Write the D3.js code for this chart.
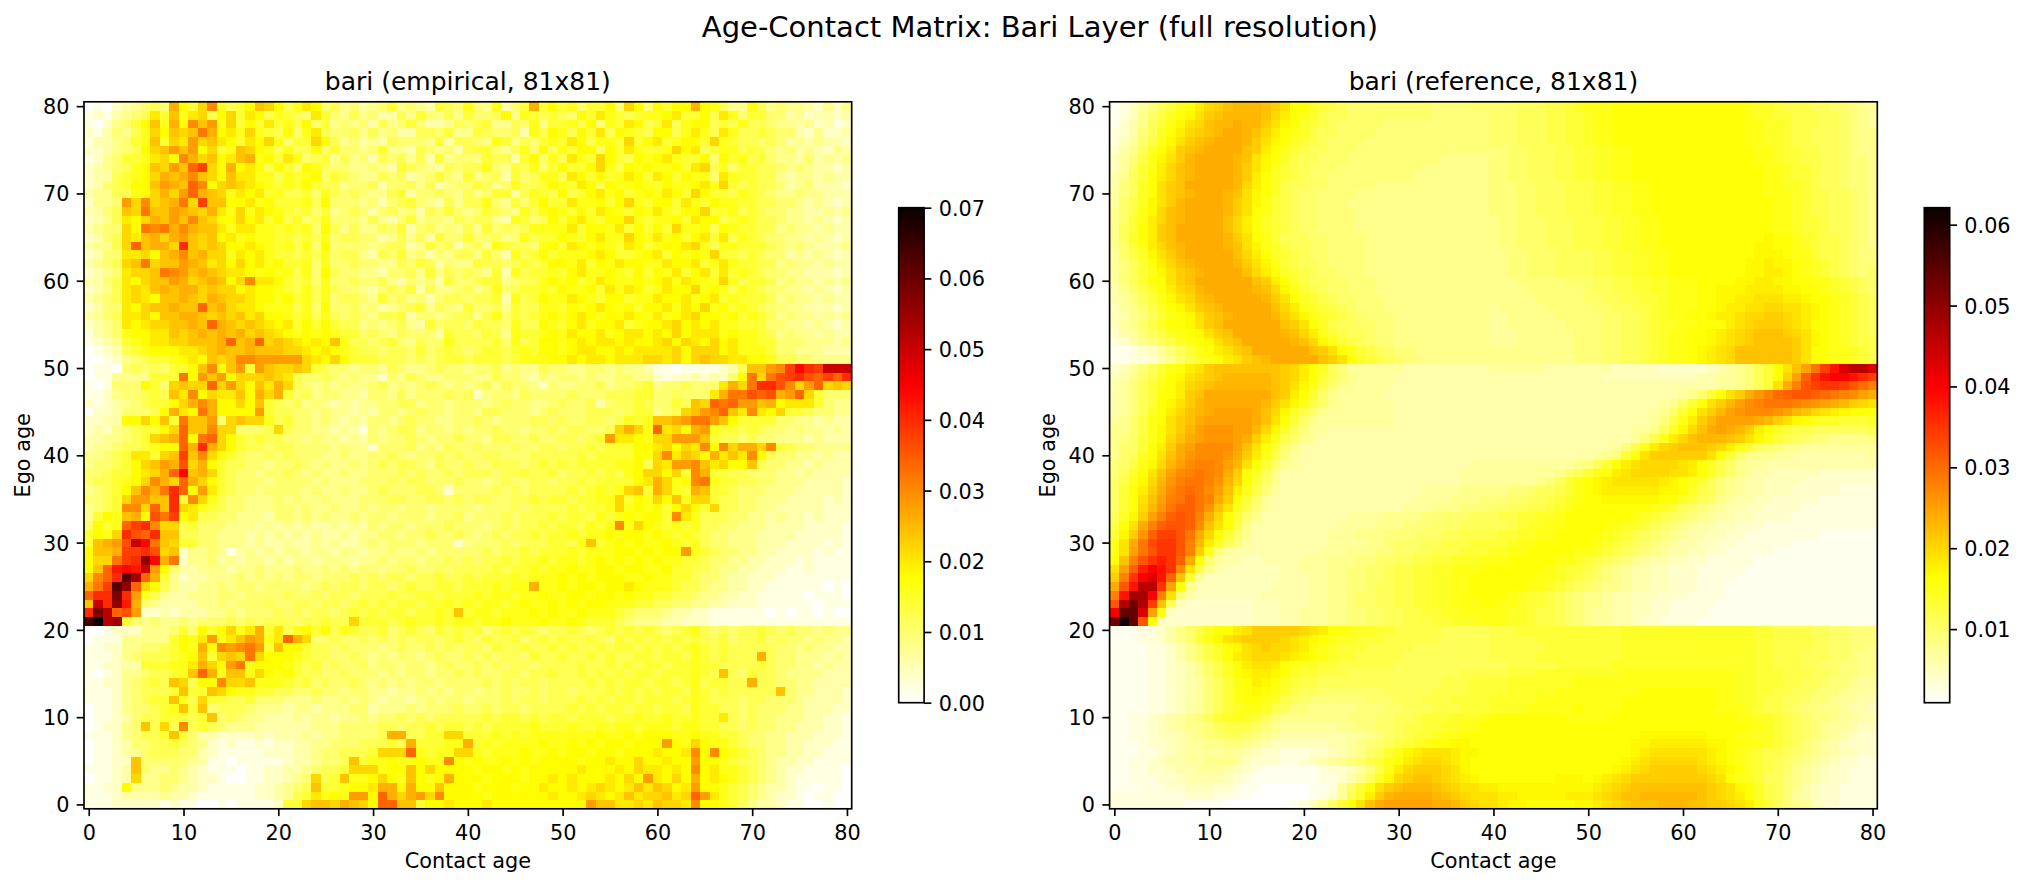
<!DOCTYPE html>
<html>
<head>
<meta charset="utf-8">
<script src="https://cdn.jsdelivr.net/npm/d3@7"></script>
<style>
  html, body { margin: 0; padding: 0; background: #ffffff; }
  svg { display: block; font-family: "DejaVu Sans", sans-serif; }
</style>
</head>
<body>
<svg id="chart" width="2026" height="887"></svg>
<script>
// ---------- data ----------
const ageTicks = [0, 10, 20, 30, 40, 50, 60, 70, 80];
const empiricalTicks = [0, 0.01, 0.02, 0.03, 0.04, 0.05, 0.06, 0.07];
const referenceTicks = [0.01, 0.02, 0.03, 0.04, 0.05, 0.06];
const empiricalRange = [0, 0.07];
const referenceRange = [0.0009, 0.0621];

// one character per cell, level index into this alphabet
const levelAlphabet = "0123456789abcdefghijklmnopqrstuvwxyzABCDEFGHIJKLMNOPQRSTUVWXYZ";
const empiricalStep = 0.002;
const referenceStep = 0.001;

// rows run from ego age 80 (top) down to ego age 0; columns are contact ages 0..80
const empiricalRows = [
  "010234565d 97bf8679cb 968a956453 4574543765 8548357d79 7857795b95 9799d98644 8645443242 4",
  "1213456a7c 8ab69b7a96 8765a75464 5336475464 7556948767 6597a87678 89a7796a85 7755342332 3",
  "1024579c8d 9fce8b797a 7869574545 3645753346 5674465847 7869587a96 7a68996768 6654434231 2",
  "2135468b9c bcgd9a8b87 6958a65564 6453366574 4765563869 8697a69876 9968a86a86 6765532422 3",
  "1334578c7b aebca97a9b 8577b96453 4365554736 6548746578 7a96887b79 a78997b876 6565343433 2",
  "2234569bce ce9b78cb98 6866957554 5744365453 6775468596 8799697a87 78b9a67886 7654534324 3",
  "1245778ab9 fdbc9acd89 7a85674645 3656463745 5476637958 6a87b97698 9a87795978 6754435343 4",
  "2345689cbe chjb9d9a96 9759865544 5437654365 6685476857 9779b86989 8897ab6857 7665454332 3",
  "2336789bdc dfcb9caa88 6878957654 4656345754 7456375688 6a97978a97 a979885a87 7664344343 3",
  "2356799ced chf9bcba98 7879766455 6355646345 5764586679 87a9698898 79889a8b76 7665345333 2",
  "3446689bdb ehdcb8a9a7 8667586565 4467355654 6457736876 9679a89789 8a97b97768 7654454433 3",
  "2445ebfbcd gbjcc99a89 7778695554 5356754364 6685475797 7a88979b87 997a879887 7665543432 3",
  "3356cbgcce dcbda8b8a9 8767574565 3564536575 4576548689 8797a98798 a8799b7786 7655443343 4",
  "2346a9bdce cfcb99b9a7 9685685554 6435745546 5664387569 79a8799b87 8897a99678 7665443432 3",
  "3455b9gfgd fdcca8aa88 7878596464 4657356454 6475656888 8a7998a797 97b8896987 7664544343 3",
  "2356bacdbd ecbc9a8988 7767685665 5346463755 7556458677 9879a88b98 a8979a7a68 7655443432 3",
  "3446bhcddb kcbcb99a98 7868595555 4566347563 5648766589 7a98987a97 899ab86887 7765454333 4",
  "2355aab9cd fcdbb8a9a8 7767685664 3657453546 6475386797 8889a97789 a79898b776 7655343432 3",
  "3456bcgbcc edcab9b9a8 9778585565 5446576354 4766567679 98a798a998 8a99a78a87 7664544343 3",
  "2345abbcgf ecdcbaa989 8868596554 4355647465 6547386778 79a8898797 98a79a7a78 7655443332 3",
  "3356a9bcce dbcdc9bfaa 9767585565 5643545375 5677456689 8978a98898 9a8a988b86 7764544343 4",
  "2346abacdc ddbcbb9a99 8768686554 3565736445 6458567787 98897a8a97 8a99b89868 7655443432 3",
  "3456aba9cc dcbdcbba99 8978685665 4756453566 5667386798 8a98799788 a99a89a787 7764544343 3",
  "2355a9bccd cchcdbaa98 8868595564 5345674654 7556476688 7989a98979 9a8a9b8978 7655443332 3",
  "3456aab9cc ddcbcbcab9 9878686565 4667355456 6468576789 89a9899a98 a89ab99897 8764544343 4",
  "2345a9abbc cdchdcbcba 9a79797664 5456437566 5766586698 79a899a789 9ab9a9a887 7755443432 3",
  "1345899aac bcdcdcdbcb a989898775 6546555376 6576487789 8a99a89aa9 a9b9aaa898 8764544343 3",
  "1234789aab bcccdhcdhb cba9a9c866 5675465586 6667586799 89a9aa9a99 ab9ba9b9a8 8775554443 4",
  "0123678999 aabcdccdcc cbba9a9876 6566575676 5677678799 89aa99a9aa aab9bbb9a8 8875544433 3",
  "0012456778 9a9cbcffee eeeba9b977 7666565677 6777678889 9a9aa9aaab bab9bcbbaa 9986655444 4",
  "0110565657 79cf9ce7ec bbcb765545 5465445655 4556454465 5445545443 1101111236 ccefjmkjpp p",
  "0114444777 g9ece9bbbc ba65565454 4254654455 5446554354 5545445544 2122323259 gbgijkihjh k",
  "101555975b cbbhbeb9ca db65454544 5645456545 4564655425 4455645567 4556555adb gkkifbehbc b",
  "112455676c af9baac9db d756455443 5546455565 6245546555 5655566677 556555adgg ihidehb755 5",
  "2123456779 bdfd99b9c7 6564543434 4556645545 5545655445 6556356676 5576cbhghe ecd9aaa754 4",
  "022355569d a9gd9999e7 6655454434 3554565545 5466555456 5556665677 456bcefhca fa9b776554 4",
  "223399b9c7 gcce5bcbb8 6755454343 5545655445 5654555665 6556656878 ccdeggec97 7775544343 3",
  "232456779b hccfbb5556 b655443431 5456645545 4556554556 566556bdb8 hab9de8776 7655454434 3",
  "3344567bcd h9ghb97676 6554544343 5455654556 5546655655 66567eaa98 bbeeec7665 6554443433 3",
  "3445667899 hdkdb97665 6655554544 2555645465 5655565566 5667677799 ab9baf9fbd dbf7655444 4",
  "44567aa7bc jcfb976556 5655544544 5565455656 5566555666 6676777798 bfacb9daca f965544343 3",
  "455679bced ibd9766554 5565454454 5656654655 6556665676 7677778896 baeefcab99 c655443433 3",
  "556779abdh mcdb765545 5654544544 5556565565 6665667667 566767689b b9b7fd7766 5554434333 3",
  "566789bfdb hdb9765554 5555454445 5565665556 5545655665 667677779a db89fg8776 6554443333 2",
  "45679cfdgk h9ea765545 5554544544 5655566525 5556565666 6767878bc7 db87dc7765 5544433333 2",
  "5567beecck 7fb8655444 5454454445 5566556656 5665566767 767788b798 b9c8bb7665 5444333323 2",
  "4567ffbhck ba87655444 5545445445 4554554555 5455565666 676778b898 979b97b665 5443333322 2",
  "4798cd9igj 9a66554443 5545454454 5545554556 4555656667 6776878989 97fa866655 4434332322 2",
  "5978hjkfbb 6755544434 3434334343 5455455565 5545656676 776878f8b9 8787866554 4433332222 1",
  "798bkihkcc 6655444343 4343433434 4554556556 5456566767 7878898998 9878765544 4333322222 1",
  "7cdeipmgcb 7755444343 3433434334 5455545552 4555656667 768c789898 8987865544 4333222212 1",
  "9ccdjjkibc 2445413434 3443443443 4454454555 5565667677 7878889989 899e876554 4332222121 1",
  "9bbgjksmdg 2445343443 4344344434 4545545565 6566767787 8878989898 9887765544 3322212111 1",
  "9chlmlpe95 3344434454 4454454545 5455655656 6667677878 8988998998 8977665443 3222112111 1",
  "bfhkvrhd74 2334445454 5455455565 6566566766 7677787888 9898999889 8877655433 2221111111 1",
  "dgjvshb964 3344545545 5554565665 6656766776 7778788d88 9899899a98 8876654433 2211111101 0",
  "hkktke8643 3444554555 5655656656 6676677677 7878878898 8998998988 7766544332 2111110111 0",
  "cpksld5433 3344545556 5566566567 6767767787 8788789889 8989988877 6655443322 2111111011 1",
  "ktqhie2232 3334454555 6565665676 767767787c 7887888989 8898887655 5433221111 1101011010 0",
  "wzqr754544 5455565656 66566766b7 7767877878 8788988898 8987776544 4332221111 1111111111 1",
  "0012224445 75979b8ad7 a689796876 6756765767 6756767656 6765676767 6567865656 6765655454 4",
  "0111444447 98ae8aced8 ahdb556556 5656566567 6576675676 7667657676 7676766756 6756554544 3",
  "1122445567 98d9fefge7 c997665655 5456556565 6657667667 6766767767 6767876766 6665545443 3",
  "1112456667 89c7bcbgb9 9987665565 4545545655 6565665766 7667676677 6776876766 6d65544434 3",
  "1122337778 8adb9eg899 9876756556 4554554565 5656566566 6676676767 7677877666 6765544343 3",
  "1012445667 8chd8cc8b9 8976655655 5454554556 5655665667 6676767677 6777876c65 7665444433 3",
  "112245676c b699fbbc88 8767565565 4545455455 5565656656 6667676776 7767867766 d665544333 3",
  "1112456667 c77cb98877 6655655455 4434454545 5455655656 6566676767 6776876766 666c544333 2",
  "111245677c 86b7766755 5444544545 4344345455 4555656656 6676767767 7767876665 6655543333 2",
  "0112455678 c7c5666544 4344344455 3444545556 5565665666 6767677677 6776877665 6555443332 2",
  "0112356677 767c565443 3343443445 4556565666 6676776767 7677767787 7877877a65 6554443322 1",
  "012245c6b6 f676544433 3333444555 5665667677 6767777877 7877878878 8878877665 6554433322 1",
  "111245667c 7533222232 3334344555 56dd6677bb 7778787888 8888988989 9988988776 5544333222 1",
  "0112355667 6542121121 2233445556 6676d77788 d787888898 8989899899 9e98b98876 5544332221 1",
  "0112345666 5532111112 2233455666 7bbbh8788b b878889889 8998998999 a99af9f987 6544332211 1",
  "01122c5555 5431101111 12334556c7 88988988f9 8988989899 99899a99b9 9a99e99876 6543322111 1",
  "11123c5445 4321110112 23345667bb b899c9b999 9899898999 99a999a9ba a9a9f9a887 6543221111 0",
  "01123b4455 4322100112 2345b67c88 9b98c989d9 998999899a 9a999a9b9e a9b9d9a987 6543211111 0",
  "1122944454 3321111122 3456c77899 add9d99c99 98999899a9 9a9aba9aca cb9ae99876 5433211011 0",
  "1112333343 3211111122 3467a898ee 9hdbdebf99 998999999a 99aba9acab bcabhea876 5432210110 0",
  "1112222212 1100101111 277bccbdcb 9hhcc799a9 99a9999999 999eccaaba cbbaf99876 4332110010 0"
];

const referenceRows = [
  "23579bdfgi klmnnnmljg gedcbaaaaa aaaa9999aa aaabbbccde fffggggggg gggggggfee dcccbbaa98 7",
  "2358aceghj lmnnnnmkig fecbbaaaaa aaaa999999 aaabbbccdd effggggggg gggggggfee ddcccbba98 7",
  "2468bdfhjk mnnonnljhg edcbaaaaa9 9999999999 aaabbbccdd effggggggg gggggggffe edcccbba98 7",
  "3469begikl mnoonmkigf ecbbaaaa99 9999999999 aaabbbccdd effggggggg gggggggffe edccbbba98 8",
  "357acfhjlm nooonljhge dcbaaaa999 9999999999 aaabbbccdd effggggggg gggggggffe edccbbba98 8",
  "468begilmn oooomligfd cbbaaa9999 9999999999 99aabbbccd deeffggggg ggggggggff eddccbba98 8",
  "579cfhjlno ooonmjhgec bbaaa99999 9999988888 99aabbbccd deeffggggg ggggggggff eddccbba99 8",
  "57adfikmno ooonljhfdc baaa999999 9998888888 99aabbbccd deeffggggg gggggggggf feddcbba99 8",
  "68bdgikmno ooonligedc baa9999999 9988888888 99aabbbccd deeffggggg gggggggggf feddcbba99 8",
  "69begjlmoo ooonkigecb baa9999988 8888888888 999aabbbcc cddeeffggg gggggggggf feedcbba99 8",
  "79begjlmno oonmjhgecb aa99998888 8888888888 999aabbbcc cddeeffggg gggggggggf ffedccbba9 8",
  "7acehjlnoo oonljhfdcb aa99988888 8888888888 999aabbbcc cddeeffggg gggggggggg ffedccbba9 8",
  "8acfhkmnoo oonljgfdcb aa99998888 8888888888 999aabbbcc cddeeffggg gggggggggg ffedccbba9 8",
  "8adfikmnoo oomkigedcb aa99998888 8888888888 899aaabbbc ccddeeffgg gggggggggg ffeddcbba9 8",
  "8bdgilmooo oomkigedcb aa99998888 8888888888 899aaabbbc ccddeeffgg gggggggggg ffeddcbba9 8",
  "8begilmooo oonljgfdbb baa9999888 8888888888 899aaabbbc ccddeeffgg gggggggggh ggfedccba9 8",
  "8adfikmnoo oonmjhfecb baa9999888 8888888888 899aaabbbc ccddeeffgg gggggggghh ggfedccba9 8",
  "7acehjlnoo ooomkigedc baa9999888 8888888888 8899aaabbb bccddeeffg gggggggghh hgffdccba9 9",
  "79bdgikmno ooonljhfdc bba9999888 8888888888 8899aaabbb bccddeeffg ggggggghhi hhgfedcba9 9",
  "79bdfhjlmn oooomkiged cbaa999888 8888888888 8899aaabbb bccddeeffg ggggggghhi ihgfedcba9 a",
  "79bdggjlmo ooooomlige cbbaa99988 8888888888 88899999aa abbccddeef ffgggghhii hhggffedcb a",
  "68acegikln ooooonmkhf dcbaa99988 8888888888 8888999999 abbccddeef ffgghhhiii ihhggfedcb a",
  "679bdfhjkm nooooonljg edcbaa9998 8888888888 8888899999 aabbccddef ffgghhiijj jiihggfedc b",
  "578aceghjl mnooooomki fedcba9998 8888888888 7888889999 9aabbccdef ffgghiijjk kjjihgfedc b",
  "5689bdfghj lmnoooonlj hfedcba999 8888888888 7788888999 99aabbcdef fgghiijkkl lkjihgfedc b",
  "578acegghj lmooooooml jgecbbaa99 8888888888 7788888899 99aabbcdee ffgggijkll lkjiggfedc b",
  "4679bcefgh jlmooooonm kifdcbba99 8888888888 7778888889 99aabbcdef fgghijklmm mlkjhgfedc b",
  "34689bcefg hjlmooooon mkhfdcba99 8888888888 7778888889 99aabbcdef fgghijklmm mmljhgfedc c",
  "2234579bdf gijlmooooo omljgfdcba 9988888888 8888888889 99aabbcdef fghijkmmmm mmljggffed c",
  "2233468ace fgijlmnooo oomljgedcb a998888888 8888888889 99aabbcdef fghijkmmmm mmljggffed c",
  "4579bdfgij lmmmmmmmlk igeb977777 7666666666 7777776666 6665555544 44456789bd gjmptyCHKK H",
  "568aceghjk lmnnnnnmlk igdb987777 6666666666 6666666666 6655555555 55667789bd glpvzCEECA y",
  "679bdfgikl mnnnnnnmlj hfca877777 6666666666 6666666666 6666666666 66667789bd joswyzzywu s",
  "679bdggilm ooooooomli gda8777776 6666666666 6666666666 6666666666 78adgjloqs uvwwvutsrp o",
  "679bdghjln oooooonljh fca8777777 6666666666 6666666666 6666666678 adgjlnprst ttsrqponlk j",
  "679begikmn oppppomkhe ca87777777 6666666666 6666666666 666666678a dgjlnpqrrr qpnmkjihgg g",
  "78acfgjlmo pppppomjgd a877777777 6666666666 6666666666 666666679c filnppppon ljhgfeeddd e",
  "88acfhjlnp qqqppnkheb 9776666666 6666666666 6666666666 66666778be hkmoponlig edccbbbbbb c",
  "89adfhkmop qqqpolifca 8766666666 6666666666 6666666666 6666679cfi kmnnnmljhf dcba998888 9",
  "8aadgilopr rrrpmjgda8 6666666666 6666666666 6666666666 66679cfikl mmmlkifdba 9887777777 7",
  "8abegjmoqr rrqolifc97 6666666666 6666666666 6666666666 6789dgjlll llljgda888 7766666666 7",
  "9acfhknprs srpnjgda87 6666666666 6666666677 7777777778 9bdgijkkkk jigeca8776 6666666666 6",
  "9begjmprst srolgeb866 6666666666 6666666777 77777778ab dfgijkkkkj jigeca8766 5555544444 4",
  "acfhknqstt sqnkgda866 6666666666 6666666777 7777789bdf ghijjjjjih gfdb987665 5554444444 4",
  "adgilortut rpmifc9766 6666666666 6667777888 8899abbcdf ghiiiiiihh gecb987665 5544444333 3",
  "adgjmpstvt solgda7666 6666666666 6677778889 99aabbcdef gghhhhhhgg edba876655 4444433333 3",
  "adgknqtvvt qmjfc97666 6666666666 6777888999 aabbccdefg gggggggfed ba98766554 4443333333 3",
  "behlpsvwvs okgda86666 6666677778 88899aaabb bccddeefgg gggggfedcb a987665544 4433333333 3",
  "cgjosvwwvr mjgc866666 6666777788 8999aaabbb bbcdeeffgg gggfeedba9 8766554443 3333333333 3",
  "dhlqvyywto kgda866666 6667778889 99aaabbccc cddeeffggg ggfedcba98 7665544333 3333322222 2",
  "fjotxzzwsn ieb9766666 6667777889 aaabbcccdd ddeffggggg gfedcba987 6655443333 3322222222 2",
  "fjptwzzwsl f976666666 6677788899 aabbcccddd eeffgggggf fedcba9876 6554433333 2222222222 2",
  "gmswzBzvog a766556666 77788899aa bbccddeeef ffgggggffe dcba987665 5443333322 2222222222 2",
  "jpvBECzrjc 8655555566 7778899aab ccddeefffg ggggggfedd cb98766554 4433333222 2222222222 2",
  "lszEHCvmd7 5555555566 6778899aab ccddeeffgg gggggffedc ba98766554 4433332222 2222222222 2",
  "owCKKzpg85 5555555666 6778899abb ccddeeffgg ggggffedcb a988766554 4433322222 2222222222 2",
  "sCMMEsj965 5555556666 677889aabb ccddeeffgg ggfeddcba9 8876655544 4333322222 2222222222 2",
  "wLRLymb544 4444455566 677889aabb ccddeefffg gffeddcba9 8876655443 3333222222 2222222222 2",
  "ESSHpg5444 4444455566 7778899aab bccddeefff ffeedccba9 8776655443 3332222222 2222222222 2",
  "RZSwg54444 4444455566 7778899aab bcccddeeef ffeedccba9 8776654433 3322222222 2222222222 2",
  "22233468ac eggijlllll kjiggfeedd cccccbbbbb cccddddddd ddddeeeeee eeeeeeeedd ccccbbaa99 9",
  "22233468ad fhjkllllkj ihgfeedddc cccccbbbbb cccccddddd ddddeeeeee eeeeeeeedd ccccbbaa99 9",
  "222233468a ceghjklkkj igfedddccc ccbbbbbbbb ccccccdddd ddddeeeeee eeeeeeeedd ccccbbaa99 8",
  "222233468a cegijkkkji hgfeddcccc cbbbbbbbbb cccccddddd ddddeeeeee eeeeeeeedd cccbbbaa98 8",
  "2222334568 acegijjigf eeddcccccc bbbbbbbbbb bbcccccddd dddeeeeeee eeeeeeeedd cccbbaa998 8",
  "2222334568 aceghiihge ddcccbbbbb bbbbbbbccc ccdddeeeee eeeeffffff ffffffeedd dcccbba998 8",
  "2222334567 9bdfgihged ccbbbbbbbb bbbbbcccdd ddeeeeeeef ffffffffff ffffffeedd dccbba9987 7",
  "2222334567 9bdfghgfec bbaaaaaaab bbbbccccdd ddeeeeefff ffffffgggg ggggffeedd ccbba99877 7",
  "2222334567 9bdfggfecb a999999aaa bbbcccdddd eeeeefffff ffffgggggg ggggffeedc cbba998776 6",
  "2222334567 9bdeffecb9 988888999a abbbcccddd eeeefffffg ffffgggggg ggggfffedc cba9988766 5",
  "2233456789 bdefedb988 88888999aa bbcdddeeef ggggggggff fffggggggg ggggggffee dcba998776 6",
  "2233456788 9bcccb9877 77778899aa bccddeeffg gggggggggg gggggggggg gggggggffe dcba987765 5",
  "2233455678 9abba98766 666667789a bcddeffggg gggggggggg gggggghhhh hhhgggffee dcba987654 4",
  "2223445677 8899876555 55566789ab cdefgghhgg gggggggggg ggggghhiii iiihhggffe dcb9876544 4",
  "2223345677 7787654433 3445678abd fhijjjihhg gggggggggg ggggghijjj jjjihgfedc cba9876554 4",
  "2233456677 8887544433 456789acdf gijkkjihgg gggggggggg gggghijkkk kkjihgfedc ba98765443 3",
  "2233445667 7765432222 22344579cf iklllkjhgg gggggggggg ggghijklll llkjihgedc ba87654433 3",
  "2233344566 6654322222 2233468beh klmmlkjihg ggggggghhh ghijklllll lllkjgfedb b987654433 3",
  "2223334455 5443221111 12237adgjl mnnnmlkjji ihhhhhhhhh hijklmmmmm mmmlkjhgec b986544333 3",
  "3333333344 4332211111 12347beiln oooonmlkjj jiihhhhhii ijklmmnnnn nnmlkjigec b976544333 3",
  "3333333322 2211111112 357adgjmop ppppoonlkj jihhgggggh hijklmmmnn nmmllkjifd b987544333 3"
];

// ---------- colour map (matplotlib "hot", reversed) ----------
function hot(x) {
  const r = Math.min(1, 0.0416 + x / 0.365079 * (1 - 0.0416));
  const g = x < 0.365079 ? 0 : Math.min(1, (x - 0.365079) / (0.746032 - 0.365079));
  const b = x < 0.746032 ? 0 : Math.min(1, (x - 0.746032) / (1 - 0.746032));
  return d3.rgb(r * 255, g * 255, b * 255).formatHex();
}
const hotR = t => hot(1 - Math.max(0, Math.min(1, t)));

function decodeRows(rows, step) {
  // returns matrix[ego][contact]
  return rows.slice().reverse().map(r => Array.from(r.replace(/ /g, '')).map(ch => levelAlphabet.indexOf(ch) * step));
}

const svg = d3.select('#chart');

class MatrixPanel {

  constructor(_config, _data) {
    this.config = {
      parentElement: _config.parentElement,
      left: _config.left,
      top: 101.8,
      width: 767.7,
      height: 707,
      cbarLeft: _config.cbarLeft,
      cbarTop: 207.7,
      cbarWidth: 25.4,
      cbarHeight: 495,
      range: _config.range,
      cbarTicks: _config.cbarTicks,
      title: _config.title,
      tickLen: 7.3,
      tickPad: 7.3,
      lineWidth: 1.67,
      fontSize: 20.8
    };
    this.data = _data;
    this.initVis();
  }

  initVis() {
    let vis = this;
    const c = vis.config;

    vis.xScale = d3.scaleLinear().domain([-0.5, 80.5]).range([0, c.width]);
    vis.yScale = d3.scaleLinear().domain([-0.5, 80.5]).range([c.height, 0]);
    vis.colorScale = d3.scaleSequential(hotR).domain(c.range).clamp(true);

    vis.chart = d3.select(c.parentElement).append('g')
        .attr('transform', `translate(${c.left},${c.top})`);

    vis.cells = vis.chart.append('g').attr('shape-rendering', 'crispEdges');

    vis.xAxis = d3.axisBottom(vis.xScale)
        .tickValues(ageTicks)
        .tickSize(c.tickLen)
        .tickPadding(c.tickPad)
        .tickSizeOuter(0);

    vis.yAxis = d3.axisLeft(vis.yScale)
        .tickValues(ageTicks)
        .tickSize(c.tickLen)
        .tickPadding(c.tickPad)
        .tickSizeOuter(0);

    vis.xAxisG = vis.chart.append('g')
        .attr('transform', `translate(0,${c.height})`);
    vis.yAxisG = vis.chart.append('g');

    vis.chart.append('text')
        .attr('x', c.width / 2)
        .attr('y', -11.8)
        .attr('text-anchor', 'middle')
        .attr('font-size', '25px')
        .text(c.title);

    vis.chart.append('text')
        .attr('x', c.width / 2)
        .attr('y', 868 - c.top)
        .attr('text-anchor', 'middle')
        .attr('font-size', c.fontSize + 'px')
        .text('Contact age');

    vis.chart.append('text')
        .attr('transform', `translate(-54.5,${c.height / 2}) rotate(-90)`)
        .attr('text-anchor', 'middle')
        .attr('font-size', c.fontSize + 'px')
        .text('Ego age');

    // colorbar
    vis.cbarScale = d3.scaleLinear().domain(c.range).range([c.cbarHeight, 0]);
    vis.cbar = d3.select(c.parentElement).append('g')
        .attr('transform', `translate(${c.cbarLeft},${c.cbarTop})`);

    vis.renderVis();
  }

  renderVis() {
    let vis = this;
    const c = vis.config;

    const cells = [];
    vis.data.forEach((row, ego) => row.forEach((v, contact) => cells.push({ ego, contact, v })));

    vis.cells.selectAll('rect')
        .data(cells)
        .join('rect')
        .attr('x', d => vis.xScale(d.contact - 0.5))
        .attr('y', d => vis.yScale(d.ego + 0.5))
        .attr('width', d => vis.xScale(d.contact + 0.5) - vis.xScale(d.contact - 0.5) + 0.3)
        .attr('height', d => vis.yScale(d.ego - 0.5) - vis.yScale(d.ego + 0.5) + 0.3)
        .attr('fill', d => vis.colorScale(d.v));

    vis.chart.append('rect')
        .attr('width', c.width)
        .attr('height', c.height)
        .attr('fill', 'none')
        .attr('stroke', '#000')
        .attr('stroke-width', c.lineWidth);

    vis.xAxisG.call(vis.xAxis);
    vis.yAxisG.call(vis.yAxis);
    [vis.xAxisG, vis.yAxisG].forEach(g => {
      g.select('.domain').remove();
      g.selectAll('line').attr('stroke', '#000').attr('stroke-width', c.lineWidth);
      g.selectAll('text').attr('fill', '#000').attr('font-size', c.fontSize + 'px').attr('font-family', 'DejaVu Sans');
    });
    vis.xAxisG.selectAll('text').attr('dy', '0.82em');
    vis.yAxisG.selectAll('text').attr('dy', '0.36em');

    // colorbar gradient
    const gradId = 'grad-' + c.cbarLeft.toFixed(0);
    const grad = d3.select(c.parentElement).append('defs').append('linearGradient')
        .attr('id', gradId)
        .attr('x1', 0).attr('y1', 1).attr('x2', 0).attr('y2', 0);
    grad.selectAll('stop')
        .data(d3.range(0, 1.0001, 1 / 128))
        .join('stop')
        .attr('offset', d => d)
        .attr('stop-color', d => hotR(d));

    vis.cbar.append('rect')
        .attr('width', c.cbarWidth)
        .attr('height', c.cbarHeight)
        .attr('fill', `url(#${gradId})`)
        .attr('stroke', '#000')
        .attr('stroke-width', c.lineWidth);

    const cbarAxis = d3.axisRight(vis.cbarScale)
        .tickValues(c.cbarTicks)
        .tickFormat(d3.format('.2f'))
        .tickSize(c.tickLen)
        .tickPadding(c.tickPad)
        .tickSizeOuter(0);

    const cbarAxisG = vis.cbar.append('g')
        .attr('transform', `translate(${c.cbarWidth},0)`)
        .call(cbarAxis);
    cbarAxisG.select('.domain').remove();
    cbarAxisG.selectAll('line').attr('stroke', '#000').attr('stroke-width', c.lineWidth);
    cbarAxisG.selectAll('text')
        .attr('fill', '#000')
        .attr('font-size', c.fontSize + 'px')
        .attr('font-family', 'DejaVu Sans')
        .attr('dy', '0.36em');
  }
}

svg.append('text')
    .attr('x', 1040)
    .attr('y', 37)
    .attr('text-anchor', 'middle')
    .attr('font-size', '29px')
    .text('Age-Contact Matrix: Bari Layer (full resolution)');

new MatrixPanel({
  parentElement: '#chart',
  left: 84,
  cbarLeft: 898.7,
  range: empiricalRange,
  cbarTicks: empiricalTicks,
  title: 'bari (empirical, 81x81)'
}, decodeRows(empiricalRows, empiricalStep));

new MatrixPanel({
  parentElement: '#chart',
  left: 1109.6,
  cbarLeft: 1924.3,
  range: referenceRange,
  cbarTicks: referenceTicks,
  title: 'bari (reference, 81x81)'
}, decodeRows(referenceRows, referenceStep));
</script>
</body>
</html>
